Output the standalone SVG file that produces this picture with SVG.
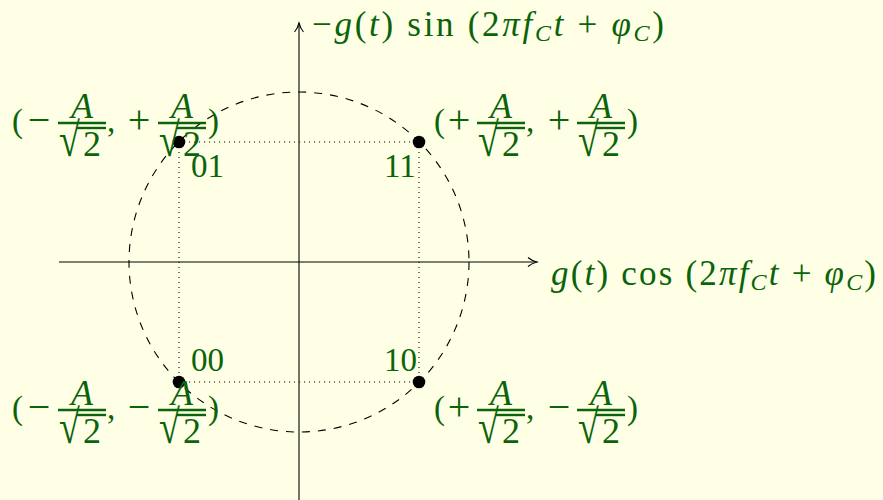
<svg xmlns="http://www.w3.org/2000/svg" width="883" height="500" viewBox="0 0 883 500">
<style>
.m{font-family:"Liberation Serif","Times New Roman",serif;font-size:33px;fill:#0a640a}
.ax{font-size:35px}
.f{font-size:36px}
.op{font-size:40px}
.i{font-style:italic}
.s{font-size:24px;font-style:italic}
.bar{stroke:#0a640a;stroke-width:2.4}
.dot{stroke:#000;stroke-width:1.1;stroke-dasharray:1.1 3.9;fill:none}
</style>
<defs>
<marker id="arr" markerUnits="userSpaceOnUse" markerWidth="14" markerHeight="12" viewBox="-11 -6 13 12" refX="0" refY="0" orient="auto">
<path d="M-9,-4.5 C-6,-1.8 -1.5,-0.4 0,0 C-1.5,0.4 -6,1.8 -9,4.5" fill="none" stroke="#000" stroke-width="1.1"/>
</marker>
<g id="frac">
<text class="m i f" x="24" y="-5" text-anchor="middle">A</text>
<line class="bar" x1="0" y1="0" x2="48" y2="0"/>
<text class="m" transform="translate(1,33) scale(1.15,1.45)" font-size="32">√</text>
<line class="bar" x1="19" y1="5" x2="48" y2="5"/>
<text class="m f" x="34" y="33" text-anchor="middle">2</text>
</g>
</defs>
<rect width="883" height="500" fill="#ffffe6"/>
<g id="guides" fill="none">
<circle cx="299" cy="262" r="170" stroke="#000" stroke-width="1.1" stroke-dasharray="8 8"/>
<path class="dot" d="M179,142 H419 M179,382 H419 M179,142 V382 M419,142 V382"/>
</g>
<g id="connectors" fill="none" stroke="#000" stroke-width="1.1">
<line x1="59" y1="262" x2="537" y2="262" marker-end="url(#arr)"/>
<line x1="299" y1="500" x2="299" y2="23" marker-end="url(#arr)"/>
</g>
<g id="axis-x-label">
<text class="m ax" x="551" y="285" textLength="325" lengthAdjust="spacing"><tspan class="i">g</tspan>(<tspan class="i">t</tspan>) cos (2<tspan class="i">πf</tspan><tspan class="s" dy="5">C</tspan><tspan class="i" dy="-5">t</tspan> + <tspan class="i">φ</tspan><tspan class="s" dy="5">C</tspan><tspan dy="-5">)</tspan></text>
</g>
<g id="axis-y-label">
<text class="m ax" x="312" y="36" textLength="352" lengthAdjust="spacing">−<tspan class="i">g</tspan>(<tspan class="i">t</tspan>) sin (2<tspan class="i">πf</tspan><tspan class="s" dy="5">C</tspan><tspan class="i" dy="-5">t</tspan> + <tspan class="i">φ</tspan><tspan class="s" dy="5">C</tspan><tspan dy="-5">)</tspan></text>
</g>
<g id="p01">
<circle cx="179" cy="142" r="6.3" fill="#000"/>
<text class="m" x="191" y="177">01</text>
<g>
<text class="m" x="12" y="132">(</text>
<text class="m op" x="39" y="133" text-anchor="middle">−</text>
<use href="#frac" x="58" y="123"/>
<text class="m" x="107" y="132">,</text>
<text class="m op" x="139" y="133" text-anchor="middle">+</text>
<use href="#frac" x="158" y="123"/>
<text class="m" x="208" y="132">)</text>
</g>
</g>
<g id="p11">
<circle cx="419" cy="142" r="6.3" fill="#000"/>
<text class="m" x="384" y="177">11</text>
<g transform="translate(420,0)">
<text class="m" x="14" y="132">(</text>
<text class="m op" x="39" y="133" text-anchor="middle">+</text>
<use href="#frac" x="57" y="123"/>
<text class="m" x="106" y="132">,</text>
<text class="m op" x="139" y="133" text-anchor="middle">+</text>
<use href="#frac" x="157" y="123"/>
<text class="m" x="207" y="132">)</text>
</g>
</g>
<g id="p00">
<circle cx="179" cy="382" r="6.3" fill="#000"/>
<text class="m" x="191" y="371">00</text>
<g transform="translate(0,287)">
<text class="m" x="12" y="132">(</text>
<text class="m op" x="39" y="133" text-anchor="middle">−</text>
<use href="#frac" x="58" y="123"/>
<text class="m" x="107" y="132">,</text>
<text class="m op" x="139" y="133" text-anchor="middle">−</text>
<use href="#frac" x="158" y="123"/>
<text class="m" x="208" y="132">)</text>
</g>
</g>
<g id="p10">
<circle cx="419" cy="382" r="6.3" fill="#000"/>
<text class="m" x="384" y="371">10</text>
<g transform="translate(420,287)">
<text class="m" x="14" y="132">(</text>
<text class="m op" x="39" y="133" text-anchor="middle">+</text>
<use href="#frac" x="57" y="123"/>
<text class="m" x="106" y="132">,</text>
<text class="m op" x="139" y="133" text-anchor="middle">−</text>
<use href="#frac" x="157" y="123"/>
<text class="m" x="207" y="132">)</text>
</g>
</g>
</svg>
